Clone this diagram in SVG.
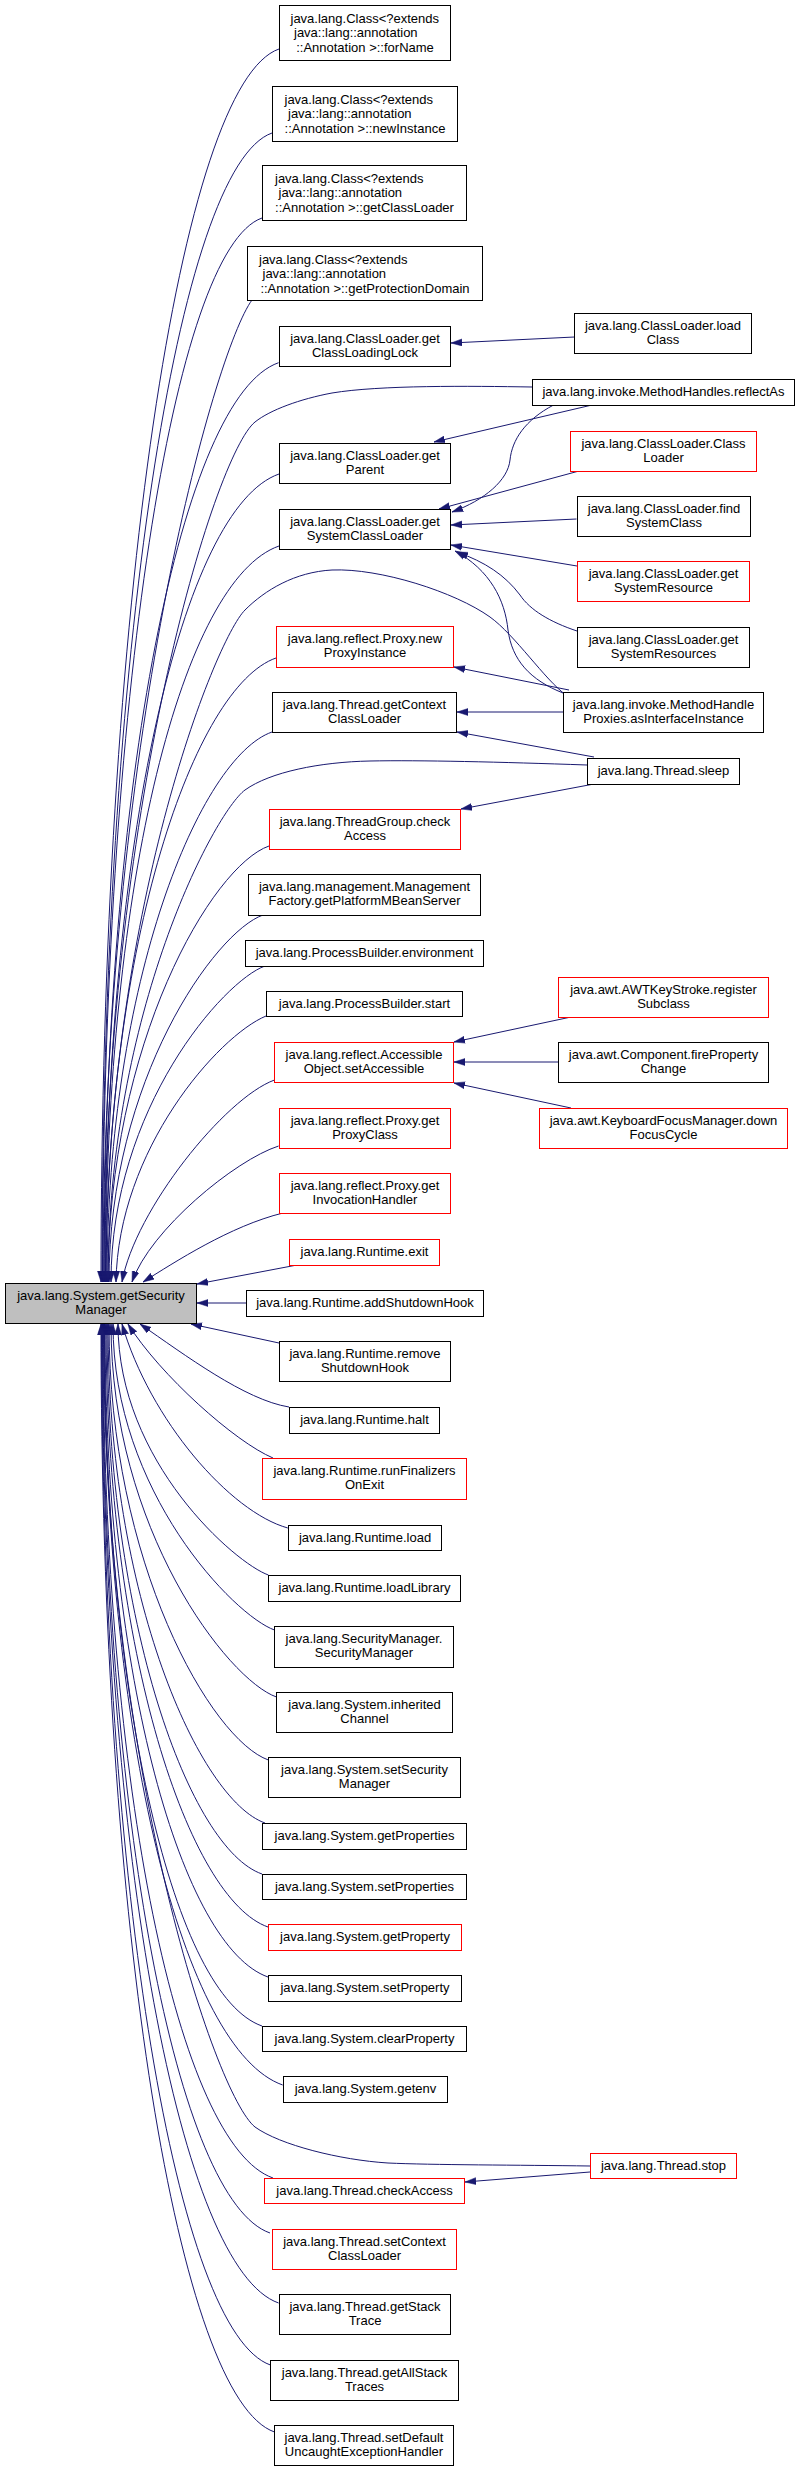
<svg xmlns="http://www.w3.org/2000/svg" width="796" height="2471" viewBox="0 0 796 2471">
<style>
text{font-family:"Liberation Sans",Arial,Helvetica,sans-serif;font-size:13px;fill:#000}
.c{text-anchor:middle}
.s{text-anchor:start}
.b rect{fill:#fff;stroke:#000;stroke-width:1}
.r rect{fill:#fff;stroke:#f00;stroke-width:1}
#edges path{fill:none;stroke:#191970;stroke-width:1;marker-end:url(#ah)}
</style>
<defs>
<marker id="ah" viewBox="0 0 11 8" refX="11" refY="4" markerWidth="11" markerHeight="8" markerUnits="userSpaceOnUse" orient="auto"><path d="M0,0.5 L11,4 L0,7.5 Z" fill="#191970" stroke="#191970" stroke-width="0.5"/></marker>
</defs>
<rect x="0" y="0" width="796" height="2471" fill="#fff"/>
<g id="edges">
<path d="M279,49 C181,83 101,604 101,1282"/>
<path d="M272,133 C178.5,166 102,650 102,1282"/>
<path d="M262,218 C174,249 102.5,697 102.5,1282"/>
<path d="M252,300 C215,350 103,742 103,1282"/>
<path d="M278.6,362.7 C182.6,396 104,776.5 104,1282"/>
<path d="M279,474 C183,507.5 105,837.6 105,1282"/>
<path d="M279,546 C183.6,579.4 105.5,877 105.5,1282"/>
<path d="M276,658 C195,686.4 106,938.8 106,1282"/>
<path d="M272,732 C200.5,757 107,979.5 107,1282"/>
<path d="M269,846 C212.3,865.8 108,1042 108,1282"/>
<path d="M263,915 C215.3,931.7 109,1080 109,1282"/>
<path d="M265,966 C224,980.4 111,1108 111,1282"/>
<path d="M266,1016 C218,1036 118,1150 116,1282"/>
<path d="M274.5,1080 C225,1098 135,1210 122,1282"/>
<path d="M278.6,1146 C235,1160 150,1230 132,1282"/>
<path d="M283,1213 C230,1226 175,1262 143,1282"/>
<path d="M532,387 C470,386 380,385 332,393 C300,399 270,410 255,422 C215,454 104,809 104,1282"/>
<path d="M566,695 C545,680 515,635 490,617 C455,592 380,568 332,570 C295,572 265,590 245,610 C215,640 106,912 106,1282"/>
<path d="M587,765 C500,762 420,760 370,761 C320,762 270,772 245,790 C215,812 108,1011 108,1282"/>
<path d="M297,1265 L197,1284"/>
<path d="M246,1303 L197,1303"/>
<path d="M279,1343 L191,1324"/>
<path d="M289,1407 C245,1400 185,1355 140,1324"/>
<path d="M273,1458 C235,1442 160,1375 128,1324"/>
<path d="M287.8,1528 C230,1512 150,1420 122,1324"/>
<path d="M268.4,1575 C235.8,1563.6 118,1462 118,1324"/>
<path d="M274.5,1630 C234.7,1616 113,1492 113,1324"/>
<path d="M276.5,1697 C228,1680 111,1529 111,1324"/>
<path d="M268.4,1760 C211.7,1740 109,1564 109,1324"/>
<path d="M265,1823 C200,1800 108,1598.5 108,1324"/>
<path d="M262,1874 C190.5,1849 107,1626.5 107,1324"/>
<path d="M268,1927 C189.6,1899.6 106,1655.7 106,1324"/>
<path d="M268,1977 C183,1947 105,1683 105,1324"/>
<path d="M262,2026 C175.4,1995.7 104.5,1710 104.5,1324"/>
<path d="M282.7,2085 C184.4,2050.6 104,1742.6 104,1324"/>
<path d="M590,2166 C520,2165 430,2165 388,2163 C340,2160 280,2145 255,2127 C215,2095 103.5,1766 103.5,1324"/>
<path d="M273,2178 C179.5,2145 103,1793.7 103,1324"/>
<path d="M270,2233 C178,2201 102.5,1824 102.5,1324"/>
<path d="M278.6,2303 C181.5,2269 102,1862.5 102,1324"/>
<path d="M270.4,2365 C177.4,2332 101.5,1896.6 101.5,1324"/>
<path d="M274.5,2432 C179,2398.6 101,1933.4 101,1324"/>
<path d="M574.5,337 L451,343"/>
<path d="M592,405 L434,442"/>
<path d="M579,471 L439,509"/>
<path d="M553.6,405 C525,420 512,440 510,460 C508,480 485,500 452,512"/>
<path d="M576.5,519 L451,525"/>
<path d="M577,566 L451,545"/>
<path d="M577,631 C550,622 530,610 520,595 C505,575 485,562 457,552"/>
<path d="M563,693 C530,680 512,660 508,630 C505,600 490,570 455,551"/>
<path d="M569,690 L454,667"/>
<path d="M563,712 L457,712"/>
<path d="M594,757 L457,732"/>
<path d="M594,784 L461,809"/>
<path d="M571,1017 L454,1042"/>
<path d="M558,1062 L454,1062"/>
<path d="M571,1108 L454,1083"/>
<path d="M590,2172 L465,2182"/>
</g>
<g id="main"><rect x="5.5" y="1283.5" width="191" height="40" fill="#bfbfbf" stroke="#000"/><text class="c" x="101" y="1300">java.lang.System.getSecurity</text><text class="c" x="101" y="1313.5">Manager</text></g>
<g id="n1" class="b"><rect x="279.5" y="5.5" width="171" height="55"/><text class="s" x="290.5" y="22.5">java.lang.Class&lt;?extends</text><text class="s" x="294" y="37">java::lang::annotation</text><text class="c" x="365" y="51.5">::Annotation &gt;::forName</text></g>
<g id="n2" class="b"><rect x="272.5" y="86.5" width="185" height="55"/><text class="s" x="284.5" y="103.5">java.lang.Class&lt;?extends</text><text class="s" x="288" y="118">java::lang::annotation</text><text class="c" x="365" y="132.5">::Annotation &gt;::newInstance</text></g>
<g id="n3" class="b"><rect x="262.5" y="165.5" width="204" height="55"/><text class="s" x="275" y="182.5">java.lang.Class&lt;?extends</text><text class="s" x="278.5" y="197">java::lang::annotation</text><text class="c" x="364.5" y="211.5">::Annotation &gt;::getClassLoader</text></g>
<g id="n4" class="b"><rect x="247.5" y="246.5" width="235" height="54"/><text class="s" x="259" y="263.5">java.lang.Class&lt;?extends</text><text class="s" x="262.5" y="278">java::lang::annotation</text><text class="c" x="365" y="292.5">::Annotation &gt;::getProtectionDomain</text></g>
<g id="n5" class="b"><rect x="279.5" y="326.5" width="171" height="40"/><text class="c" x="365" y="343">java.lang.ClassLoader.get</text><text class="c" x="365" y="356.5">ClassLoadingLock</text></g>
<g id="n6" class="b"><rect x="279.5" y="443.5" width="171" height="40"/><text class="c" x="365" y="460">java.lang.ClassLoader.get</text><text class="c" x="365" y="473.5">Parent</text></g>
<g id="n7" class="b"><rect x="279.5" y="509.5" width="171" height="40"/><text class="c" x="365" y="526">java.lang.ClassLoader.get</text><text class="c" x="365" y="539.5">SystemClassLoader</text></g>
<g id="n8" class="r"><rect x="276.5" y="626.5" width="177" height="41"/><text class="c" x="365" y="643">java.lang.reflect.Proxy.new</text><text class="c" x="365" y="656.5">ProxyInstance</text></g>
<g id="n9" class="b"><rect x="272.5" y="692.5" width="184" height="40"/><text class="c" x="364.5" y="709">java.lang.Thread.getContext</text><text class="c" x="364.5" y="722.5">ClassLoader</text></g>
<g id="n10" class="r"><rect x="269.5" y="809.5" width="191" height="40"/><text class="c" x="365" y="826">java.lang.ThreadGroup.check</text><text class="c" x="365" y="839.5">Access</text></g>
<g id="n11" class="b"><rect x="248.5" y="874.5" width="232" height="41"/><text class="c" x="364.5" y="891">java.lang.management.Management</text><text class="c" x="364.5" y="904.5">Factory.getPlatformMBeanServer</text></g>
<g id="n12" class="b"><rect x="245.5" y="940.5" width="238" height="26"/><text class="c" x="364.5" y="957">java.lang.ProcessBuilder.environment</text></g>
<g id="n13" class="b"><rect x="266.5" y="991.5" width="196" height="25"/><text class="c" x="364.5" y="1008">java.lang.ProcessBuilder.start</text></g>
<g id="n14" class="r"><rect x="274.5" y="1042.5" width="179" height="40"/><text class="c" x="364" y="1059">java.lang.reflect.Accessible</text><text class="c" x="364" y="1072.5">Object.setAccessible</text></g>
<g id="n15" class="r"><rect x="279.5" y="1108.5" width="171" height="40"/><text class="c" x="365" y="1125">java.lang.reflect.Proxy.get</text><text class="c" x="365" y="1138.5">ProxyClass</text></g>
<g id="n16" class="r"><rect x="279.5" y="1173.5" width="171" height="40"/><text class="c" x="365" y="1190">java.lang.reflect.Proxy.get</text><text class="c" x="365" y="1203.5">InvocationHandler</text></g>
<g id="n17" class="r"><rect x="289.5" y="1239.5" width="150" height="26"/><text class="c" x="364.5" y="1256">java.lang.Runtime.exit</text></g>
<g id="n18" class="b"><rect x="246.5" y="1290.5" width="237" height="26"/><text class="c" x="365" y="1307">java.lang.Runtime.addShutdownHook</text></g>
<g id="n19" class="b"><rect x="279.5" y="1341.5" width="171" height="40"/><text class="c" x="365" y="1358">java.lang.Runtime.remove</text><text class="c" x="365" y="1371.5">ShutdownHook</text></g>
<g id="n20" class="b"><rect x="289.5" y="1407.5" width="150" height="26"/><text class="c" x="364.5" y="1424">java.lang.Runtime.halt</text></g>
<g id="n21" class="r"><rect x="262.5" y="1458.5" width="204" height="41"/><text class="c" x="364.5" y="1475">java.lang.Runtime.runFinalizers</text><text class="c" x="364.5" y="1488.5">OnExit</text></g>
<g id="n22" class="b"><rect x="288.5" y="1525.5" width="153" height="25"/><text class="c" x="365" y="1542">java.lang.Runtime.load</text></g>
<g id="n23" class="b"><rect x="268.5" y="1575.5" width="192" height="26"/><text class="c" x="364.5" y="1592">java.lang.Runtime.loadLibrary</text></g>
<g id="n24" class="b"><rect x="274.5" y="1626.5" width="179" height="41"/><text class="c" x="364" y="1643">java.lang.SecurityManager.</text><text class="c" x="364" y="1656.5">SecurityManager</text></g>
<g id="n25" class="b"><rect x="276.5" y="1692.5" width="176" height="40"/><text class="c" x="364.5" y="1709">java.lang.System.inherited</text><text class="c" x="364.5" y="1722.5">Channel</text></g>
<g id="n26" class="b"><rect x="268.5" y="1757.5" width="192" height="40"/><text class="c" x="364.5" y="1774">java.lang.System.setSecurity</text><text class="c" x="364.5" y="1787.5">Manager</text></g>
<g id="n27" class="b"><rect x="262.5" y="1823.5" width="204" height="26"/><text class="c" x="364.5" y="1840">java.lang.System.getProperties</text></g>
<g id="n28" class="b"><rect x="262.5" y="1874.5" width="204" height="25"/><text class="c" x="364.5" y="1891">java.lang.System.setProperties</text></g>
<g id="n29" class="r"><rect x="268.5" y="1924.5" width="193" height="26"/><text class="c" x="365" y="1941">java.lang.System.getProperty</text></g>
<g id="n30" class="b"><rect x="268.5" y="1975.5" width="193" height="26"/><text class="c" x="365" y="1992">java.lang.System.setProperty</text></g>
<g id="n31" class="b"><rect x="262.5" y="2026.5" width="204" height="25"/><text class="c" x="364.5" y="2043">java.lang.System.clearProperty</text></g>
<g id="n32" class="b"><rect x="283.5" y="2076.5" width="164" height="26"/><text class="c" x="365.5" y="2093">java.lang.System.getenv</text></g>
<g id="n33" class="r"><rect x="264.5" y="2178.5" width="200" height="25"/><text class="c" x="364.5" y="2195">java.lang.Thread.checkAccess</text></g>
<g id="n34" class="r"><rect x="272.5" y="2229.5" width="184" height="40"/><text class="c" x="364.5" y="2246">java.lang.Thread.setContext</text><text class="c" x="364.5" y="2259.5">ClassLoader</text></g>
<g id="n35" class="b"><rect x="279.5" y="2294.5" width="171" height="40"/><text class="c" x="365" y="2311">java.lang.Thread.getStack</text><text class="c" x="365" y="2324.5">Trace</text></g>
<g id="n36" class="b"><rect x="270.5" y="2360.5" width="188" height="40"/><text class="c" x="364.5" y="2377">java.lang.Thread.getAllStack</text><text class="c" x="364.5" y="2390.5">Traces</text></g>
<g id="n37" class="b"><rect x="274.5" y="2425.5" width="179" height="40"/><text class="c" x="364" y="2442">java.lang.Thread.setDefault</text><text class="c" x="364" y="2455.5">UncaughtExceptionHandler</text></g>
<g id="r1" class="b"><rect x="574.5" y="313.5" width="177" height="40"/><text class="c" x="663" y="330">java.lang.ClassLoader.load</text><text class="c" x="663" y="343.5">Class</text></g>
<g id="r2" class="b"><rect x="532.5" y="379.5" width="262" height="26"/><text class="c" x="663.5" y="396">java.lang.invoke.MethodHandles.reflectAs</text></g>
<g id="r3" class="r"><rect x="570.5" y="431.5" width="186" height="40"/><text class="c" x="663.5" y="448">java.lang.ClassLoader.Class</text><text class="c" x="663.5" y="461.5">Loader</text></g>
<g id="r4" class="b"><rect x="577.5" y="496.5" width="173" height="40"/><text class="c" x="664" y="513">java.lang.ClassLoader.find</text><text class="c" x="664" y="526.5">SystemClass</text></g>
<g id="r5" class="r"><rect x="577.5" y="561.5" width="172" height="40"/><text class="c" x="663.5" y="578">java.lang.ClassLoader.get</text><text class="c" x="663.5" y="591.5">SystemResource</text></g>
<g id="r6" class="b"><rect x="577.5" y="627.5" width="172" height="40"/><text class="c" x="663.5" y="644">java.lang.ClassLoader.get</text><text class="c" x="663.5" y="657.5">SystemResources</text></g>
<g id="r7" class="b"><rect x="563.5" y="692.5" width="200" height="40"/><text class="c" x="663.5" y="709">java.lang.invoke.MethodHandle</text><text class="c" x="663.5" y="722.5">Proxies.asInterfaceInstance</text></g>
<g id="r8" class="b"><rect x="587.5" y="758.5" width="152" height="26"/><text class="c" x="663.5" y="775">java.lang.Thread.sleep</text></g>
<g id="r9" class="r"><rect x="558.5" y="977.5" width="210" height="40"/><text class="c" x="663.5" y="994">java.awt.AWTKeyStroke.register</text><text class="c" x="663.5" y="1007.5">Subclass</text></g>
<g id="r10" class="b"><rect x="558.5" y="1042.5" width="210" height="40"/><text class="c" x="663.5" y="1059">java.awt.Component.fireProperty</text><text class="c" x="663.5" y="1072.5">Change</text></g>
<g id="r11" class="r"><rect x="539.5" y="1108.5" width="248" height="40"/><text class="c" x="663.5" y="1125">java.awt.KeyboardFocusManager.down</text><text class="c" x="663.5" y="1138.5">FocusCycle</text></g>
<g id="r12" class="r"><rect x="590.5" y="2153.5" width="146" height="25"/><text class="c" x="663.5" y="2170">java.lang.Thread.stop</text></g>
</svg>
